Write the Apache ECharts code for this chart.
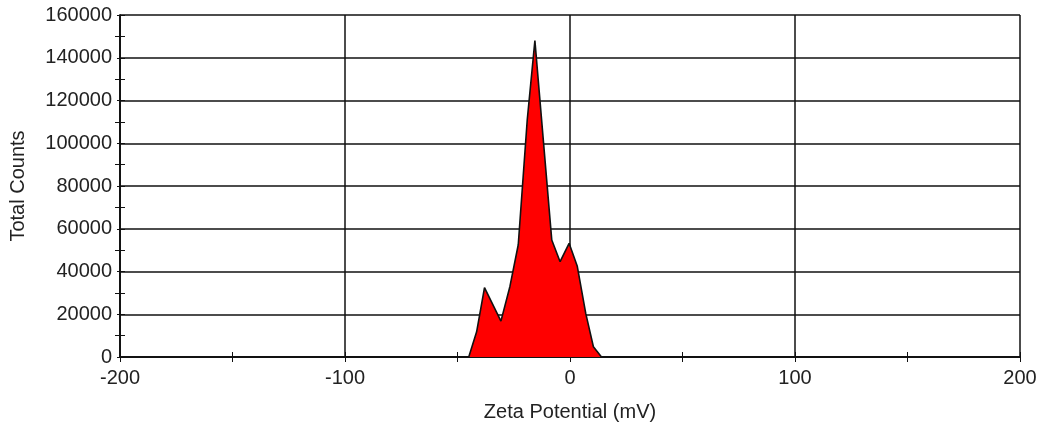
<!DOCTYPE html>
<html>
<head>
<meta charset="utf-8">
<script src="https://cdn.jsdelivr.net/npm/echarts@6/dist/echarts.min.js"></script>
<style>
  html, body { margin: 0; padding: 0; background: #fff; }
  #chart { width: 1043px; height: 434px; }
</style>
</head>
<body>
<div id="chart"></div>
<script>
// zeta potential distribution (mV, counts)
const zeta = [-150, -45, -41.5, -38, -30.7, -26.7, -23, -19, -15.6, -8.1, -4.4, -0.4, 3.2, 7, 10.4, 14, 150]
const counts = [0, 0, 11800, 32500, 16800, 33000, 52500, 111000, 148000, 54700, 44600, 53200, 42600, 20400, 4800, 0, 0]

const xTicks = { min: -200, max: 200, interval: 100 }
const yTicks = { min: 0, max: 160000, interval: 20000 }

const font = 'Liberation Sans, Arial, sans-serif'
const black = '#111'

const chart = echarts.init(document.getElementById('chart'))

const baseX = {
  type: 'value',
  ...xTicks,
  axisLine: { show: true, onZero: false, lineStyle: { color: black, width: 1.5 } },
  splitLine: { show: false },
  axisLabel: { show: false },
  axisTick: { show: true, inside: true, length: 5, lineStyle: { color: black } },
  minorTick: { show: true, splitNumber: 2, length: 5, lineStyle: { color: black } }
}

const baseY = {
  type: 'value',
  ...yTicks,
  axisLine: { show: true, onZero: false, lineStyle: { color: black, width: 1.5 } },
  splitLine: { show: false },
  axisLabel: { show: false },
  axisTick: { show: true, inside: true, length: 5, lineStyle: { color: black } },
  minorTick: { show: true, splitNumber: 2, length: 5, lineStyle: { color: black } }
}

chart.setOption({
  animation: false,
  grid: { left: 120, right: 23, top: 15, bottom: 77 },
  xAxis: [
    {
      ...baseX,
      name: 'Zeta Potential (mV)',
      nameLocation: 'middle',
      nameGap: 45,
      nameTextStyle: { fontFamily: font, fontSize: 20, color: '#222' },
      axisLabel: { show: true, fontFamily: font, fontSize: 20, color: '#222', margin: 11 },
      axisTick: { show: true, inside: false, length: 5, lineStyle: { color: black } },
      minorTick: { show: true, splitNumber: 2, length: 5, lineStyle: { color: black } },
      splitLine: { show: true, lineStyle: { color: black, width: 1.5 } }
    },
    { ...baseX, position: 'bottom' }
  ],
  yAxis: [
    {
      ...baseY,
      name: 'Total Counts',
      nameLocation: 'middle',
      nameGap: 92,
      nameTextStyle: { fontFamily: font, fontSize: 20, color: '#222' },
      axisLabel: {
        show: true, fontFamily: font, fontSize: 20, color: '#222', margin: 8,
        formatter: v => String(v)
      },
      axisTick: { show: true, inside: false, length: 3, lineStyle: { color: black } },
      minorTick: { show: true, splitNumber: 2, length: 5, lineStyle: { color: black } },
      splitLine: { show: true, lineStyle: { color: black, width: 1.5 } }
    },
    { ...baseY, position: 'left' }
  ],
  series: [
    {
      type: 'line',
      xAxisIndex: 0,
      yAxisIndex: 0,
      data: zeta.map((z, i) => [z, counts[i]]),
      showSymbol: false,
      lineStyle: { color: black, width: 1.6 },
      areaStyle: { color: '#ff0000', opacity: 1 },
      z: 5
    }
  ]
})
</script>
</body>
</html>
